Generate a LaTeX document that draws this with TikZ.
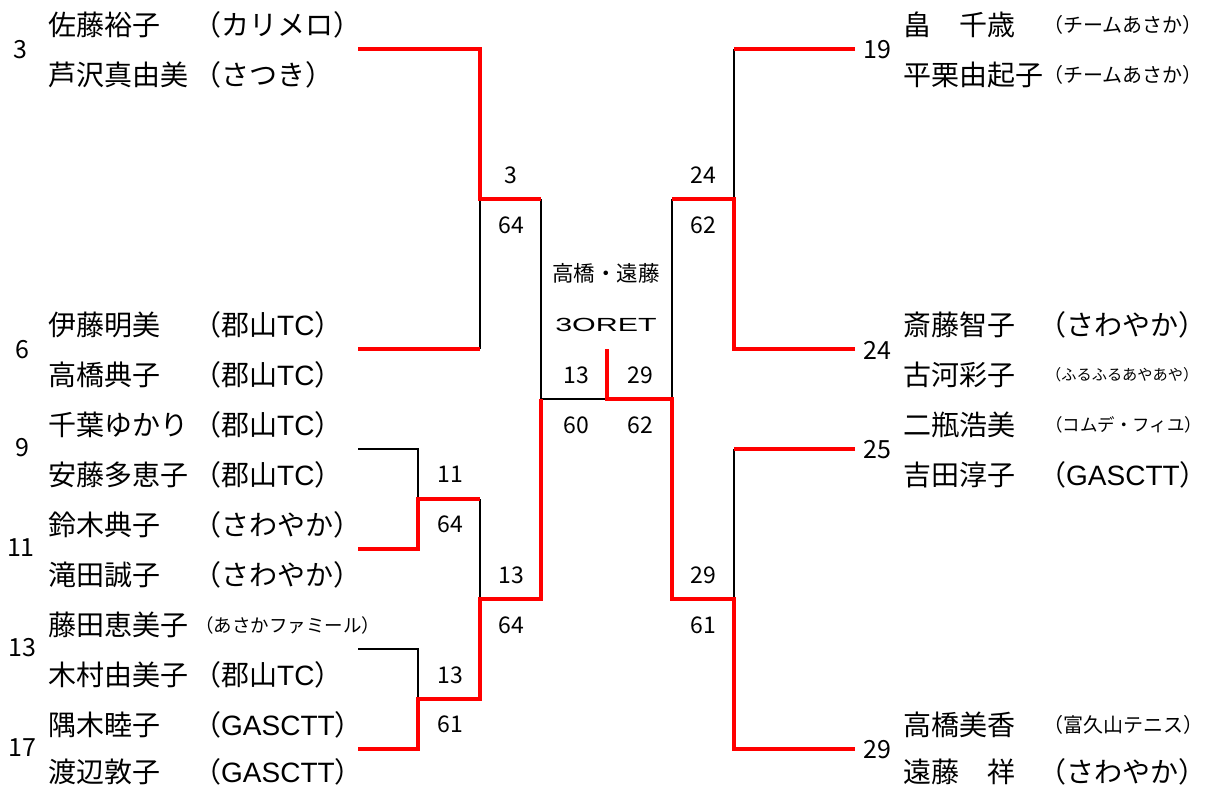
\documentclass[tikz,border=0pt]{standalone}
\usepackage{fontspec}
\setmainfont{Noto Sans CJK JP}
\newfontfamily\lat{Liberation Sans}
\begin{document}
\begin{tikzpicture}[x=1pt,y=-1pt,
  win/.style={draw=red,line width=4.5pt},
  lose/.style={draw=black,line width=2.5pt},
  pname/.style={anchor=west,inner sep=0pt,font=\fontsize{28}{28}\selectfont},
  team/.style={anchor=west,inner sep=0pt,font=\fontsize{28}{28}\selectfont},
  steam/.style={anchor=west,inner sep=0pt,font=\fontsize{#1}{#1}\selectfont},
  seed/.style={inner sep=0pt,font=\fontsize{25}{25}\selectfont},
  score/.style={inner sep=0pt,font=\fontsize{23}{23}\selectfont},
  ctext/.style={inner sep=0pt,font=\fontsize{21.5}{21.5}\selectfont}]
\useasboundingbox (0,0) rectangle (1207,787);
% ---------- left names ----------
\node[pname] (n1) at (48,25) {佐藤裕子};
\node[team] (t1) at (193,25) {（カリメロ）};
\node[pname] (n2) at (48,75) {芦沢真由美};
\node[team] (t2) at (193,75) {（さつき）};
\node[pname] (n3) at (48,325) {伊藤明美};
\node[team] (t3) at (193,325) {（郡山{\lat TC}）};
\node[pname] (n4) at (48,375) {高橋典子};
\node[team] (t4) at (193,375) {（郡山{\lat TC}）};
\node[pname] (n5) at (48,425) {千葉ゆかり};
\node[team] (t5) at (193,425) {（郡山{\lat TC}）};
\node[pname] (n6) at (48,475) {安藤多恵子};
\node[team] (t6) at (193,475) {（郡山{\lat TC}）};
\node[pname] (n7) at (48,525) {鈴木典子};
\node[team] (t7) at (193,525) {（さわやか）};
\node[pname] (n8) at (48,575) {滝田誠子};
\node[team] (t8) at (193,575) {（さわやか）};
\node[pname] (n9) at (48,625) {藤田恵美子};
\node[steam=18.5] (t9) at (195,625) {（あさかファミール）};
\node[pname] (n10) at (48,675) {木村由美子};
\node[team] (t10) at (193,675) {（郡山{\lat TC}）};
\node[pname] (n11) at (48,725) {隅木睦子};
\node[team] (t11) at (193,725) {（{\lat GASCTT}）};
\node[pname] (n12) at (48,772) {渡辺敦子};
\node[team] (t12) at (193,772) {（{\lat GASCTT}）};
% left seeds
\node[seed] (s3) at (20,50) {3};
\node[seed] (s6) at (22,350) {6};
\node[seed] (s9) at (22,448) {9};
\node[seed] (s11) at (21,548) {11};
\node[seed] (s13) at (22,648) {13};
\node[seed] (s17) at (22,748) {17};
% ---------- right names ----------
\node[pname] (m1) at (903,25) {畠　千歳};
\node[steam=20] (u1) at (1043,25) {（チームあさか）};
\node[pname] (m2) at (903,75) {平栗由起子};
\node[steam=20] (u2) at (1043,75) {（チームあさか）};
\node[pname] (m3) at (903,325) {斎藤智子};
\node[team] (u3) at (1038,325) {（さわやか）};
\node[pname] (m4) at (903,375) {古河彩子};
\node[steam=15.2] (u4) at (1046,375) {（ふるふるあやあや）};
\node[pname] (m5) at (903,425) {二瓶浩美};
\node[steam=17.5] (u5) at (1045,425) {（コムデ・フィユ）};
\node[pname] (m6) at (903,475) {吉田淳子};
\node[team] (u6) at (1038,475) {（{\lat GASCTT}）};
\node[pname] (m7) at (903,725) {高橋美香};
\node[steam=20] (u7) at (1043,725) {（富久山テニス）};
\node[pname] (m8) at (903,772) {遠藤　祥};
\node[team] (u8) at (1038,772) {（さわやか）};
% right seeds
\node[seed] (s19) at (877,50) {19};
\node[seed] (s24) at (877,350) {24};
\node[seed] (s25) at (877,450) {25};
\node[seed] (s29) at (877,750) {29};
% ---------- scores ----------
\node[score] (c1) at (511,175) {3};
\node[score] (c2) at (511,225) {64};
\node[score] (c3) at (703,175) {24};
\node[score] (c4) at (703,225) {62};
\node[ctext] (c5) at (606,273) {高橋・遠藤};
\node[inner sep=0pt,font=\fontsize{19}{19}\selectfont\lat,xscale=1.6,transform shape] (c6) at (606,325) {3ORET};
\node[score] (c7) at (576,375) {13};
\node[score] (c8) at (640,375) {29};
\node[score] (c9) at (576,425) {60};
\node[score] (c10) at (640,425) {62};
\node[score] (c11) at (450,474) {11};
\node[score] (c12) at (450,524) {64};
\node[score] (c13) at (511,575) {13};
\node[score] (c14) at (511,625) {64};
\node[score] (c15) at (450,675) {13};
\node[score] (c16) at (450,724) {61};
\node[score] (c17) at (703,575) {29};
\node[score] (c18) at (703,625) {61};
% ---------- bracket coordinates ----------
\coordinate (L3) at (358,49);
\coordinate (L6) at (358,349);
\coordinate (L9) at (358,449);
\coordinate (L11) at (358,549);
\coordinate (L13) at (358,649);
\coordinate (L17) at (358,749);
\coordinate (A1) at (480,49);
\coordinate (A2) at (480,199);
\coordinate (A3) at (480,349);
\coordinate (B1) at (418,449);
\coordinate (B2) at (418,499);
\coordinate (B3) at (418,549);
\coordinate (B4) at (480,499);
\coordinate (C1) at (418,649);
\coordinate (C2) at (418,699);
\coordinate (C3) at (418,749);
\coordinate (C4) at (480,699);
\coordinate (D1) at (480,599);
\coordinate (E1) at (541,199);
\coordinate (E2) at (541,599);
\coordinate (E3) at (541,399);
\coordinate (F0) at (607,349);
\coordinate (F1) at (607,399);
\coordinate (G1) at (672,399);
\coordinate (G2) at (672,599);
\coordinate (G3) at (672,199);
\coordinate (H1) at (734,599);
\coordinate (H2) at (734,749);
\coordinate (H3) at (734,49);
\coordinate (H4) at (734,199);
\coordinate (H5) at (734,349);
\coordinate (H6) at (734,449);
\coordinate (R19) at (855,49);
\coordinate (R24) at (855,349);
\coordinate (R25) at (855,449);
\coordinate (R29) at (855,749);
% ---------- black lines ----------
\draw[lose] (A2) -- (A3);
\draw[lose] (L9) -- (B1) -- (B2);
\draw[lose] (B4) -- (D1);
\draw[lose] (L13) -- (C1) -- (C2);
\draw[lose] (E1) -- (E3) -- (F1);
\draw[lose] (H3) -- (H4);
\draw[lose] (G3) -- (G1);
\draw[lose] (H6) -- (H1);
% ---------- red lines ----------
\draw[win] (L3) -- (A1) -- (A2) -- (E1);
\draw[win] (L6) -- (A3);
\draw[win] (L11) -- (B3) -- (B2) -- (B4);
\draw[win] (L17) -- (C3) -- (C2) -- (C4) -- (D1) -- (E2) -- (E3);
\draw[win] (F0) -- (F1) -- (G1) -- (G2) -- (H1) -- (H2) -- (R29);
\draw[win] (R19) -- (H3);
\draw[win] (R24) -- (H5) -- (H4) -- (G3);
\draw[win] (R25) -- (H6);
\end{tikzpicture}
\end{document}
